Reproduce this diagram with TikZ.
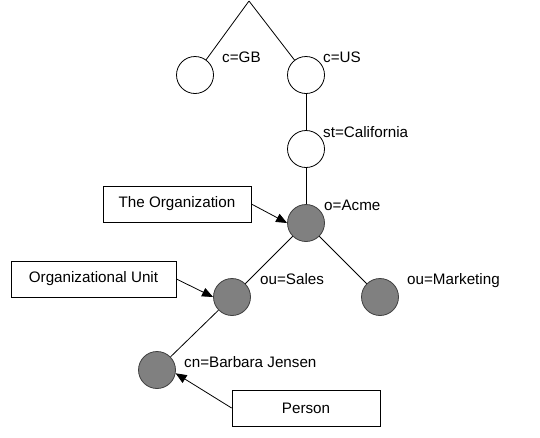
\documentclass[tikz,border=0pt]{standalone}
\usepackage{fontspec}
\setmainfont{Liberation Sans}
\definecolor{objgray}{RGB}{128, 128, 128}
\usetikzlibrary{arrows.meta, positioning}

\begin{document}
\begin{tikzpicture}[x=1pt, y=-1pt,
  font=\fontsize{15.2}{18}\selectfont,
  branch/.style={draw=black, line width=0.8pt},
  plainnode/.style={circle, draw=black, line width=0.8pt, fill=white, minimum size=37pt, inner sep=0pt},
  objnode/.style={plainnode, fill=objgray, draw=black!75},
  rdntext/.style={anchor=base west, inner sep=0pt},
  callout/.style={draw=black, line width=0.8pt, minimum height=36pt, inner sep=0pt},
  pointer/.style={-{Triangle[length=11pt, width=9pt]}, line width=0.8pt}]
  \useasboundingbox (0,0) rectangle (540,437);

  % directory tree
  \coordinate (root) at (249,1);
  \node[plainnode] (gb) at (195,75) {};
  \node[plainnode] (us) at (306,75) {};
  \node[plainnode] (calif) at (306,149) {};
  \node[objnode] (acme) at (306,223) {};
  \node[objnode] (sales) at (232,297) {};
  \node[objnode] (marketing) at (380,297) {};
  \node[objnode] (barbara) at (157,370) {};

  \draw[branch] (root) -- (gb);
  \draw[branch] (root) -- (us);
  \draw[branch] (us) -- (calif);
  \draw[branch] (calif) -- (acme);
  \draw[branch] (acme) -- (sales);
  \draw[branch] (acme) -- (marketing);
  \draw[branch] (sales) -- (barbara);

  % entry names
  \node[rdntext] (gbname) at (222,62) {c=GB};
  \node[rdntext] (usname) at (323,62) {c=US};
  \node[rdntext] (califname) at (323,137) {st=California};
  \node[rdntext] (acmename) at (324,210) {o=Acme};
  \node[rdntext] (salesname) at (260,284) {ou=Sales};
  \node[rdntext] (marketingname) at (407,284) {ou=Marketing};
  \node[rdntext] (barbaraname) at (184,367) {cn=Barbara Jensen};

  % callouts
  \node[callout, minimum width=148pt] (orgbox) at (177,204) {The Organization};
  \node[callout, minimum width=165pt] (unitbox) at (93.5,279) {Organizational Unit};
  \node[callout, minimum width=148pt] (personbox) at (306,408) {Person};

  \draw[pointer] (orgbox.east) -- (acme.west);
  \draw[pointer] (unitbox.east) -- (sales.west);
  \draw[pointer] (personbox.west) -- (barbara.-10);
\end{tikzpicture}
\end{document}
